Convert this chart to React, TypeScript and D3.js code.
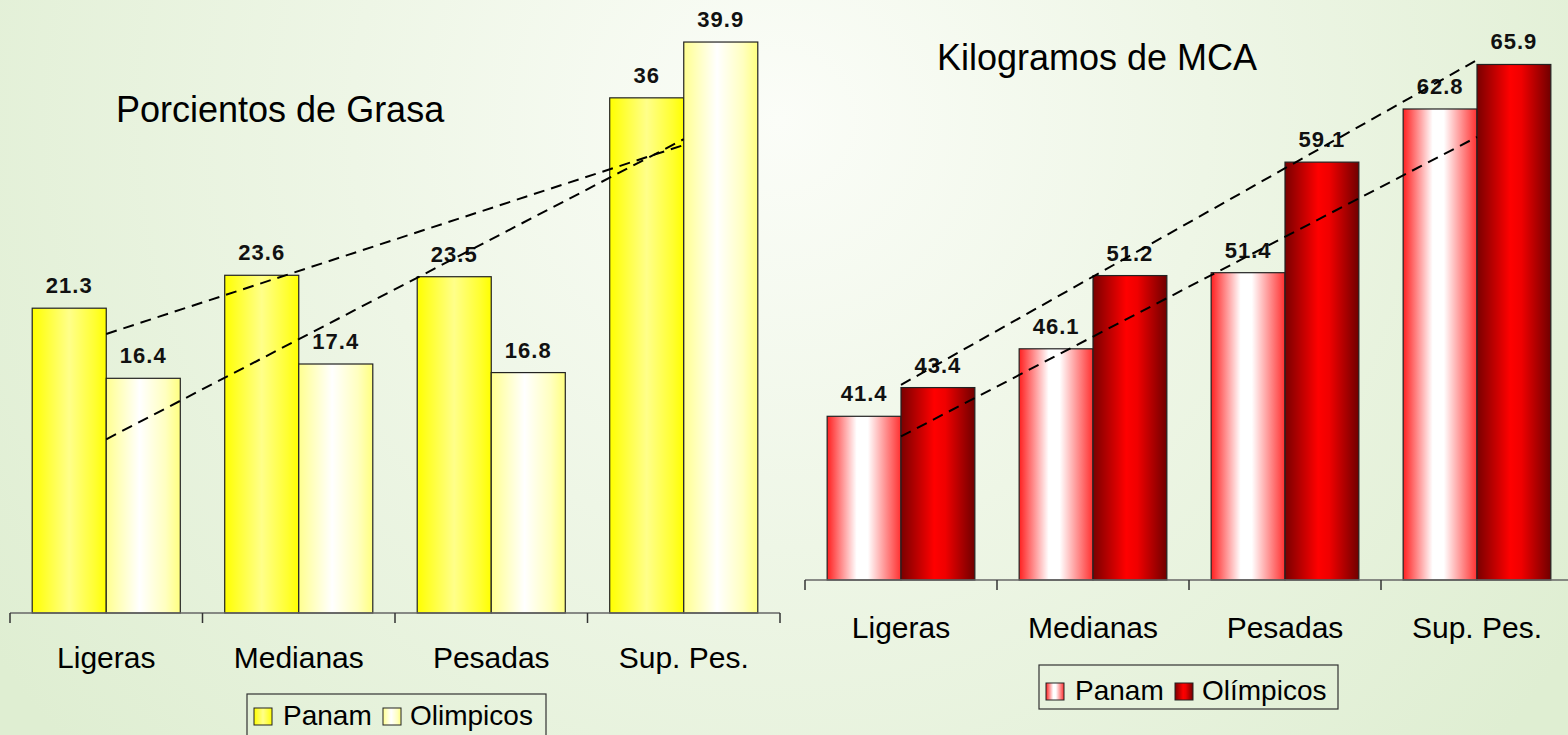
import React from "react";
import * as d3 from "d3";

const categories = ["Ligeras", "Medianas", "Pesadas", "Sup. Pes."];
const seriesGrasa = ["Panam", "Olimpicos"];
const seriesMca = ["Panam", "Olímpicos"];
const grasaPanam = [21.3, 23.6, 23.5, 36];
const grasaOlimpicos = [16.4, 17.4, 16.8, 39.9];
const mcaPanam = [41.4, 46.1, 51.4, 62.8];
const mcaOlimpicos = [43.4, 51.2, 59.1, 65.9];
const grasaDomain = [0, 40];
const mcaDomain = [30, 70];
const titleGrasa = "Porcientos de Grasa";
const titleMca = "Kilogramos de MCA";

const W = 1568;
const H = 735;
const FONT = "'Liberation Sans', Arial, Helvetica, sans-serif";

function trend(values: number[]) {
  const n = values.length;
  const xs = values.map((_, i) => i);
  const mx = d3.mean(xs) as number;
  const my = d3.mean(values) as number;
  const sxy = d3.sum(xs.map((x, i) => (x - mx) * (values[i] - my)));
  const sxx = d3.sum(xs.map((x) => (x - mx) * (x - mx)));
  const b = sxy / sxx;
  const a = my - b * mx;
  return [a, a + b * (n - 1)];
}

type PanelProps = {
  xRange: [number, number];
  yRange: [number, number];
  domain: number[];
  a: number[];
  b: number[];
  series: string[];
  fillA: string;
  fillB: string;
  labelBaseline: number;
  title: string;
  titleX: number;
  titleY: number;
  legend: { x: number; y: number; h: number; textY: number };
};

function Panel(p: PanelProps) {
  const x = d3.scaleBand<string>().domain(categories).range(p.xRange).paddingInner(0).paddingOuter(0);
  const xs = d3.scaleBand<string>().domain(p.series).range([0, x.bandwidth()]).paddingInner(0).paddingOuter(0.3);
  const y = d3.scaleLinear().domain(p.domain).range(p.yRange);
  const base = p.yRange[0];
  const bw = x.bandwidth();
  const lineGen = d3.line<[number, number]>().x((d) => d[0]).y((d) => d[1]);
  const trends = [p.a, p.b].map((vals) => {
    const [v0, v1] = trend(vals);
    const x0 = (x(categories[0]) as number) + bw / 2;
    const x1 = (x(categories[categories.length - 1]) as number) + bw / 2;
    return lineGen([
      [x0, y(v0)],
      [x1, y(v1)],
    ]) as string;
  });
  const ticks = categories.map((c) => x(c) as number).concat([p.xRange[1]]);
  const lg = p.legend;
  return (
    <g>
      <text x={p.titleX} y={p.titleY} fontSize={36} fontFamily={FONT} fill="#000">
        {p.title}
      </text>
      {categories.map((c, i) => {
        const gx = x(c) as number;
        return (
          <g key={c}>
            {[p.a[i], p.b[i]].map((v, j) => {
              const bx = gx + (xs(p.series[j]) as number);
              return (
                <g key={j}>
                  <rect
                    x={bx}
                    y={y(v)}
                    width={xs.bandwidth()}
                    height={base - y(v)}
                    fill={j === 0 ? p.fillA : p.fillB}
                    stroke="#222"
                    strokeWidth={1.2}
                  />
                  <text
                    x={bx + xs.bandwidth() / 2}
                    y={y(v) - 15}
                    textAnchor="middle"
                    fontSize={22}
                    fontWeight="bold"
                    letterSpacing={1}
                    fontFamily={FONT}
                    fill="#111"
                  >
                    {String(v)}
                  </text>
                </g>
              );
            })}
            <text
              x={gx + bw / 2}
              y={p.labelBaseline}
              textAnchor="middle"
              fontSize={30}
              fontFamily={FONT}
              fill="#000"
            >
              {c}
            </text>
          </g>
        );
      })}
      <line x1={p.xRange[0]} x2={p.xRange[1]} y1={base} y2={base} stroke="#666" strokeWidth={1.5} />
      {ticks.map((t, i) => (
        <line key={i} x1={t} x2={t} y1={base} y2={base + 10} stroke="#333" strokeWidth={1.5} />
      ))}
      {trends.map((d, i) => (
        <path key={i} d={d} fill="none" stroke="#000" strokeWidth={2} strokeDasharray="11 7" />
      ))}
      <g>
        <rect x={lg.x} y={lg.y} width={299} height={lg.h} fill="none" stroke="#333" strokeWidth={1.2} />
        <rect x={lg.x + 7} y={lg.textY - 17} width={18} height={17} fill={p.fillA} stroke="#222" strokeWidth={1} />
        <text x={lg.x + 36} y={lg.textY} fontSize={28} fontFamily={FONT} fill="#000">
          {p.series[0]}
        </text>
        <rect x={lg.x + 136} y={lg.textY - 17} width={18} height={17} fill={p.fillB} stroke="#222" strokeWidth={1} />
        <text x={lg.x + 163} y={lg.textY} fontSize={28} fontFamily={FONT} fill="#000">
          {p.series[1]}
        </text>
      </g>
    </g>
  );
}

export default function App() {
  return (
    <div style={{ position: "absolute", left: 0, top: 0, width: W, height: H, overflow: "hidden" }}>
      <svg width={W} height={H} viewBox={`0 0 ${W} ${H}`} style={{ display: "block" }}>
        <defs>
          <radialGradient id="bg" cx="780" cy="120" r="950" gradientUnits="userSpaceOnUse">
            <stop offset="0" stopColor="#fbfdf8" />
            <stop offset="0.45" stopColor="#eef6e6" />
            <stop offset="1" stopColor="#dfeed2" />
          </radialGradient>
          <linearGradient id="yelA" x1="0" x2="1" y1="0" y2="0">
            <stop offset="0" stopColor="#ffff00" />
            <stop offset="0.5" stopColor="#ffff8a" />
            <stop offset="0.85" stopColor="#ffff30" />
            <stop offset="1" stopColor="#ffff00" />
          </linearGradient>
          <linearGradient id="yelB" x1="0" x2="1" y1="0" y2="0">
            <stop offset="0" stopColor="#ffff90" />
            <stop offset="0.45" stopColor="#ffffff" />
            <stop offset="0.8" stopColor="#ffffc0" />
            <stop offset="1" stopColor="#ffff80" />
          </linearGradient>
          <linearGradient id="redA" x1="0" x2="1" y1="0" y2="0">
            <stop offset="0" stopColor="#ff2020" />
            <stop offset="0.4" stopColor="#ffffff" />
            <stop offset="0.55" stopColor="#ffffff" />
            <stop offset="1" stopColor="#ff3030" />
          </linearGradient>
          <linearGradient id="redB" x1="0" x2="1" y1="0" y2="0">
            <stop offset="0" stopColor="#7a0000" />
            <stop offset="0.45" stopColor="#ff0000" />
            <stop offset="0.6" stopColor="#f00000" />
            <stop offset="1" stopColor="#700000" />
          </linearGradient>
        </defs>
        <rect x={0} y={0} width={W} height={H} fill="url(#bg)" />
        <Panel
          xRange={[10, 780]}
          yRange={[613, 40.6]}
          domain={grasaDomain}
          a={grasaPanam}
          b={grasaOlimpicos}
          series={seriesGrasa}
          fillA="url(#yelA)"
          fillB="url(#yelB)"
          labelBaseline={668}
          title={titleGrasa}
          titleX={116}
          titleY={122}
          legend={{ x: 247, y: 694, h: 46, textY: 725 }}
        />
        <Panel
          xRange={[805, 1573]}
          yRange={[580, 5.6]}
          domain={mcaDomain}
          a={mcaPanam}
          b={mcaOlimpicos}
          series={seriesMca}
          fillA="url(#redA)"
          fillB="url(#redB)"
          labelBaseline={638}
          title={titleMca}
          titleX={937}
          titleY={70}
          legend={{ x: 1039, y: 665, h: 44, textY: 700 }}
        />
      </svg>
    </div>
  );
}
